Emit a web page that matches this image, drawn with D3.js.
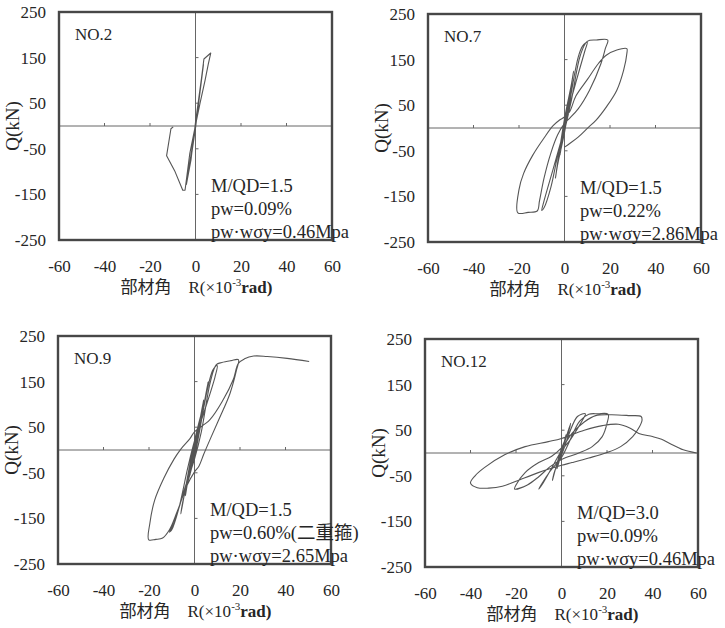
<!DOCTYPE html>
<html>
<head>
<meta charset="utf-8">
<script src="https://cdn.jsdelivr.net/npm/d3@7"></script>
<style>
  body { margin: 0; background: #fff; }
  svg { display: block; }
</style>
</head>
<body>
<script>
// tick values shared by the four panels
const xTicks = [-60, -40, -20, 0, 20, 40, 60];
const yTicks = [-250, -150, -50, 50, 150, 250];
const innerXTicks = [-40, -20, 20, 40];
const innerYTicks = [-150, -50, 50, 150];

const panelNames = ["NO.2", "NO.7", "NO.9", "NO.12"];

const notesNo2 = ["M/QD=1.5", "pw=0.09%", "pw·wσy=0.46Mpa"];
const notesNo7 = ["M/QD=1.5", "pw=0.22%", "pw·wσy=2.86Mpa"];
const notesNo9 = ["M/QD=1.5", "pw=0.60%(二重箍)", "pw·wσy=2.65Mpa"];
const notesNo12 = ["M/QD=3.0", "pw=0.09%", "pw·wσy=0.46Mpa"];

// [R (x10^-3 rad), Q (kN)]
const curveNo2 = [
  [0, 0], [1, 40], [2, 75], [1.5, 58], [0, 8], [-1, -35], [-2, -70], [-1.5, -55], [0, -5],
  [1.5, 55], [3, 115], [3.5, 135], [3, 118], [0, 8], [-2, -75], [-4, -128], [-3.6, -115], [0, 0],
  [2, 80], [3.7, 147], [6.7, 160], [5.6, 135], [4.2, 100], [2, 50], [0, 2],
  [-2.5, -60], [-4.6, -141], [-5.6, -141], [-9, -100], [-12.7, -65], [-10.8, -6], [-9.8, -2]
];

const curveNo7 = [
  [0, 0], [2, 70], [1, 35], [0, 10], [-2, -60], [-1, -30], [0, -5],
  [4, 125], [3, 95], [0, 20], [-4, -110], [-3, -80], [0, -10],
  [6, 155], [8, 180], [10, 188], [9, 170], [5, 100], [1, 25], [0, 0], [-3, -60], [-6, -130],
  [-9, -175], [-10, -181], [-9, -160], [-5, -90], [-1, -20], [0, -5],
  [3, 60], [7, 160], [10, 190], [14, 193], [19, 193], [18, 175], [16, 141], [11, 83], [6, 42],
  [2, 20], [0, 10], [-3, -15], [-6, -55], [-9, -110], [-11, -160], [-12, -182], [-16, -185], [-20.5, -186],
  [-20, -135], [-18, -100], [-14, -60], [-9, -22], [-5, 5], [-2, 18], [0, 24], [2.2, 35], [5, 70], [10, 106],
  [15, 142], [18.5, 160], [23, 171], [27.4, 174], [27.4, 163], [26, 127], [23, 83], [18.5, 47],
  [14, 18], [10.4, 1], [6, -20], [2, -35], [0, -42]
];

const curveNo9 = [
  [0, 0], [2, 60], [1, 30], [0, 5], [-2, -55], [-1, -25], [0, 0],
  [4, 110], [3, 80], [0, 15], [-4, -100], [-3, -70], [0, -10],
  [6, 150], [5, 120], [0, 20], [-6, -140], [-5, -110], [0, -15],
  [8, 175], [10, 185], [9, 160], [4, 80], [0, 20], [-3, -40], [-7, -130], [-10, -175], [-11, -180],
  [-9, -160], [-4, -80], [0, -20], [3, 40],
  [7, 150], [9.6, 187], [12, 192], [16, 196], [19.3, 198], [18.5, 176], [15.6, 124], [11, 70], [7, 25],
  [4, -10], [2, -35], [0, -48], [-3.2, -77], [-7.6, -135], [-11, -175], [-14, -193], [-17, -196], [-20.1, -197],
  [-19.6, -160], [-17.5, -110], [-13.5, -62], [-9, -20], [-6, 2], [-2, 25], [0, 40], [6.7, 66],
  [12.6, 110], [17, 154], [19.3, 190], [22, 200], [26, 206], [32, 205], [40.7, 201], [50.4, 194]
];

const curveNo12 = [
  [0, 0], [2, 40], [1, 20], [0, 5], [-2, -35], [-1, -18], [0, 0],
  [4, 65], [3, 45], [0, 10], [-4, -60], [-3, -40], [0, -5],
  [7, 80], [10.5, 86], [9, 70], [4, 30], [0, 5], [-4, -30], [-8, -65], [-10, -79], [-9, -70], [-5, -40],
  [0, -10], [3, 20],
  [8, 70], [12, 85], [16, 86], [20.5, 85], [20, 65], [17.9, 36], [13.5, 14], [7.6, 0], [0, -14],
  [-5, -30], [-10, -52], [-15, -70], [-20.6, -79], [-20, -70], [-16, -43], [-10, -21], [-4.3, -7], [0, 11],
  [5, 45], [10, 68], [15, 82], [22, 84], [30, 82], [35, 80], [35.4, 72], [34.2, 57], [31.3, 36],
  [26, 14], [19.4, 0], [12, -11], [4.6, -21], [0, -27], [-10.2, -43], [-20, -62], [-26, -73],
  [-32, -77], [-37, -76], [-40, -66], [-38, -50], [-33.9, -32], [-25, -4], [-16, 14], [-5.8, 25],
  [0, 32], [10, 50], [18, 60], [25, 63], [30, 55], [34, 43], [40, 36], [44, 30], [47.6, 21],
  [53.5, 7], [59.4, 0]
];

const curves = [curveNo2, curveNo7, curveNo9, curveNo12];
const notes = [notesNo2, notesNo7, notesNo9, notesNo12];

// layout
const W = 273, H = 228;
const panels = [
  { left: 59, top: 12 },
  { left: 428, top: 14 },
  { left: 58, top: 336 },
  { left: 425, top: 339 }
];
const serif = "Liberation Serif, Times New Roman, serif";
const cjk = "Liberation Serif, Noto Sans CJK JP, serif";
const ink = "#262626";

const svg = d3.select("body").append("svg")
  .attr("width", 725)
  .attr("height", 628);

panels.forEach((p, i) => {
  const g = svg.append("g").attr("transform", `translate(${p.left},${p.top})`);

  const x = d3.scaleLinear().domain([-60, 60]).range([0, W]);
  const y = d3.scaleLinear().domain([-250, 250]).range([H, 0]);

  // zero lines
  g.append("line")
    .attr("x1", 0).attr("x2", W)
    .attr("y1", y(0)).attr("y2", y(0))
    .attr("stroke", "#666").attr("stroke-width", 1);
  g.append("line")
    .attr("x1", x(0)).attr("x2", x(0))
    .attr("y1", 0).attr("y2", H)
    .attr("stroke", "#666").attr("stroke-width", 1);

  // small ticks on the zero lines
  g.selectAll(".xt").data(innerXTicks).enter().append("line")
    .attr("x1", d => x(d)).attr("x2", d => x(d))
    .attr("y1", y(0)).attr("y2", y(0) - 3)
    .attr("stroke", "#666");
  g.selectAll(".yt").data(innerYTicks).enter().append("line")
    .attr("x1", x(0)).attr("x2", x(0) + 3)
    .attr("y1", d => y(d)).attr("y2", d => y(d))
    .attr("stroke", "#666");

  // hysteresis curve
  const line = d3.line()
    .x(d => x(d[0]))
    .y(d => y(d[1]))
    .curve(i === 0 ? d3.curveLinear : d3.curveCatmullRom.alpha(0.5));

  g.append("path")
    .datum(curves[i])
    .attr("d", line)
    .attr("fill", "none")
    .attr("stroke", "#555")
    .attr("stroke-width", 1.1)
    .attr("stroke-linejoin", "round");

  // frame
  g.append("rect")
    .attr("width", W).attr("height", H)
    .attr("fill", "none")
    .attr("stroke", "#474747")
    .attr("stroke-width", 2.4);

  // axes
  const xAxis = g.append("g")
    .attr("transform", `translate(0,${H})`)
    .call(d3.axisBottom(x).tickValues(xTicks).tickFormat(d => String(d)).tickSize(0).tickPadding(20));
  const yAxis = g.append("g")
    .call(d3.axisLeft(y).tickValues(yTicks).tickFormat(d => String(d)).tickSize(0).tickPadding(13));
  [xAxis, yAxis].forEach(a => {
    a.select(".domain").remove();
    a.selectAll("text")
      .style("font-family", serif)
      .style("font-size", "17px")
      .attr("fill", ink);
  });

  // axis titles
  const xt = g.append("text")
    .attr("x", W / 2 + 1).attr("y", H + 53)
    .attr("text-anchor", "middle")
    .style("font-family", cjk)
    .style("font-size", "17px")
    .attr("fill", ink);
  xt.append("tspan").text("部材角\u00a0\u00a0\u00a0\u00a0R(×10");
  xt.append("tspan").attr("dy", -7).style("font-size", "11px").text("-3");
  xt.append("tspan").attr("dy", 7).attr("font-weight", "bold").text("rad)");

  g.append("text")
    .attr("transform", `translate(-40,${H / 2}) rotate(-90)`)
    .attr("text-anchor", "middle")
    .style("font-family", serif)
    .style("font-size", "19px")
    .attr("fill", ink)
    .text("Q(kN)");

  // specimen name and notes
  g.append("text")
    .attr("x", 16).attr("y", 28)
    .style("font-family", serif)
    .style("font-size", "17px")
    .attr("fill", ink)
    .text(panelNames[i]);

  g.selectAll(".note").data(notes[i]).enter().append("text")
    .attr("x", 152)
    .attr("y", (d, k) => 180 + k * 23)
    .style("font-family", cjk)
    .style("font-size", "18.5px")
    .attr("fill", ink)
    .text(d => d);
});
</script>
</body>
</html>
